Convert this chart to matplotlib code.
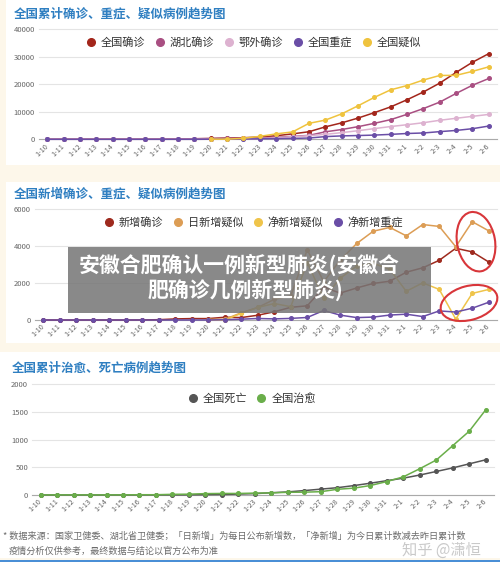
import numpy as np
import matplotlib
matplotlib.use('Agg')
import matplotlib.pyplot as plt
from matplotlib.lines import Line2D
from matplotlib.patches import Rectangle, Ellipse

plt.rcParams['font.family'] = ['Noto Sans CJK SC', 'DejaVu Sans']

nan = np.nan
dates = ['1-10', '1-11', '1-12', '1-13', '1-14', '1-15', '1-16', '1-17', '1-18', '1-19',
         '1-20', '1-21', '1-22', '1-23', '1-24', '1-25', '1-26', '1-27', '1-28', '1-29',
         '1-30', '1-31', '2-1', '2-2', '2-3', '2-4', '2-5', '2-6']

# Chart 1: cumulative
national_confirmed = [41, 41, 41, 41, 41, 41, 45, 62, 121, 198, 291, 440, 571, 830, 1287, 1975, 2744, 4515,
                      5974, 7711, 9692, 11791, 14380, 17205, 20438, 24324, 28018, 31161]
hubei_confirmed = [41, 41, 41, 41, 41, 41, 45, 62, 121, 198, 270, 375, 444, 549, 729, 1052, 1423, 2714,
                   3554, 4586, 5806, 7153, 9074, 11177, 13522, 16678, 19665, 22112]
outside_hubei = [0, 0, 0, 0, 0, 0, 0, 0, 0, 0, 21, 65, 127, 281, 558, 923, 1321, 1801,
                 2420, 3125, 3886, 4638, 5306, 6028, 6916, 7646, 8353, 9049]
national_severe = [0, 0, 0, 0, 0, 0, 0, 0, 0, 0, 35, 51, 95, 177, 237, 324, 461, 976,
                   1239, 1370, 1527, 1795, 2110, 2296, 2788, 3219, 3859, 4821]
national_suspected = [nan] * 10 + [54, 37, 393, 1072, 1965, 2684, 5794, 6973, 9239, 12167, 15238,
                                   17988, 19544, 21558, 23214, 23260, 24702, 26359]
c1_labels = ['全国确诊', '湖北确诊', '鄂外确诊', '全国重症', '全国疑似']
c1_colors = ['#a3261b', '#a94f82', '#ddb2d0', '#6a4ea6', '#efc33e']

# Chart 2: daily new
new_confirmed = [0, 0, 0, 0, 0, 0, 4, 17, 59, 77, 77, 149, 131, 259, 444, 688, 769, 1771,
                 1459, 1737, 1982, 2102, 2590, 2829, 3235, 3887, 3694, 3143]
daily_new_suspected = [nan] * 10 + [27, 37, 393, 680, 1118, 1309, 3806, 2077, 3248, 4148, 4812,
                                    5019, 4562, 5173, 5072, 3971, 5328, 4833]
net_new_suspected = [nan] * 10 + [27, 0, 356, 679, 893, 719, 3110, 1179, 2266, 2928, 3071,
                                  2750, 1556, 2014, 1656, 46, 1442, 1657]
net_new_severe = [0] * 10 + [0, 16, 44, 82, 60, 87, 137, 515, 263, 131, 157, 268, 315, 186,
                             492, 431, 640, 962]
c2_labels = ['新增确诊', '日新增疑似', '净新增疑似', '净新增重症']
c2_colors = ['#9e2a1e', '#dc9d55', '#efc44a', '#6a4ea6']

# Chart 3: cured / deaths
deaths = [1, 1, 1, 1, 1, 1, 2, 2, 2, 3, 6, 9, 17, 25, 41, 56, 80, 106, 132, 170, 213, 259,
          304, 361, 425, 490, 563, 636]
cured = [2, 2, 2, 2, 2, 2, 5, 5, 12, 15, 25, 28, 28, 34, 38, 49, 51, 60, 103, 124, 171, 243,
         328, 475, 632, 892, 1153, 1540]
c3_labels = ['全国死亡', '全国治愈']
c3_colors = ['#555555', '#6aae4a']

titles = ['全国累计确诊、重症、疑似病例趋势图', '全国新增确诊、重症、疑似病例趋势图', '全国累计治愈、死亡病例趋势图']

W, H = 500, 562
fig = plt.figure(figsize=(5, 5.62), dpi=100)
fig.patch.set_facecolor('#fdf7ea')


def fx(x):
    return x / W


def fy(y):
    return 1 - y / H


for (x0, y0, x1, y1) in [(6, 0, 500, 165), (6, 182, 500, 343), (0, 352, 500, 558)]:
    fig.patches.append(Rectangle((fx(x0), fy(y1)), fx(x1) - fx(x0), fy(y0) - fy(y1),
                                 transform=fig.transFigure, facecolor='white',
                                 edgecolor='none', zorder=-10))

xs = np.arange(len(dates))


def make_axes(left, right, y0, ytop, yticks):
    ax = fig.add_axes([fx(left), fy(y0), fx(right) - fx(left), (y0 - ytop) / H])
    ax.set_facecolor('none')
    ax.set_xlim(-0.5, len(dates) - 0.5)
    ax.set_ylim(0, yticks[-1])
    ax.set_yticks(yticks)
    ax.set_yticklabels([str(v) for v in yticks])
    ax.grid(axis='y', color='#e4e4e4', lw=0.8)
    ax.set_axisbelow(True)
    for gl in ax.get_ygridlines():
        gl.set_clip_on(False)
    for s in ['top', 'right', 'left']:
        ax.spines[s].set_visible(False)
    ax.spines['bottom'].set_color('#aaaaaa')
    ax.spines['bottom'].set_linewidth(0.8)
    ax.tick_params(axis='y', length=0, pad=3, labelsize=5.5, labelcolor='#666666')
    ax.tick_params(axis='x', length=0, pad=4, labelsize=5.2, labelcolor='#666666')
    ax.set_xticks(xs)
    ax.set_xticklabels(dates)
    for lbl in ax.get_xticklabels():
        lbl.set(rotation=45, ha='right', va='center', rotation_mode='anchor')
    return ax


def draw_lines(ax, series, colors):
    for vals, c in zip(series, colors):
        ax.plot(xs, vals, color=c, lw=1.1, marker='o', ms=2.6, zorder=3, clip_on=False)


def legend(labels, colors, cx, cy):
    handles = [Line2D([], [], ls='none', marker='o', ms=5.5, color=c) for c in colors]
    fig.legend(handles, labels, loc='center', bbox_to_anchor=(fx(cx), fy(cy)),
               bbox_transform=fig.transFigure, ncol=len(labels), frameon=False,
               fontsize=8, handlelength=0.8, handletextpad=0.5, columnspacing=0.9,
               borderpad=0, labelcolor='#333333')


# Chart 1
ax1 = make_axes(39, 497, 139.3, 29.3, [0, 10000, 20000, 30000, 40000])
draw_lines(ax1, [national_confirmed, hubei_confirmed, outside_hubei, national_severe, national_suspected],
           c1_colors)
legend(c1_labels, c1_colors, 254, 42.7)
fig.text(fx(14), fy(14), titles[0], fontsize=9, fontweight='bold', color='#2f7fc1',
         ha='left', va='center')

# Chart 2
ax2 = make_axes(35, 497, 320, 209.3, [0, 2000, 4000, 6000])
draw_lines(ax2, [new_confirmed, daily_new_suspected, net_new_suspected, net_new_severe], c2_colors)
legend(c2_labels, c2_colors, 254, 222.7)
fig.text(fx(14), fy(194), titles[1], fontsize=9, fontweight='bold', color='#2f7fc1',
         ha='left', va='center')

# Chart 3
ax3 = make_axes(32.3, 494, 495, 384.3, [0, 500, 1000, 1500, 2000])
draw_lines(ax3, [deaths, cured], c3_colors)
legend(c3_labels, c3_colors, 252, 398.3)
fig.text(fx(12), fy(368.3), titles[2], fontsize=9, fontweight='bold', color='#2f7fc1',
         ha='left', va='center')

# red highlight ellipses (annotation, pixel coordinates)
for (cx, cy, w, h, ang) in [(476, 241.7, 38, 60, 10), (469, 303, 58, 34, 15)]:
    fig.patches.append(Ellipse((cx / 100, (H - cy) / 100), w / 100, h / 100, angle=ang,
                               transform=fig.dpi_scale_trans, facecolor='none',
                               edgecolor='#d8363a', lw=1.5, zorder=6))

# overlay caption box
fig.patches.append(Rectangle((fx(68), fy(313)), fx(431) - fx(68), fy(247) - fy(313),
                             transform=fig.transFigure, facecolor='#767676',
                             edgecolor='none', alpha=0.86, zorder=10))
fig.text(fx(239), fy(265), '安徽合肥确认一例新型肺炎(安徽合', fontsize=15, fontweight='bold',
         color='white', ha='center', va='center', zorder=11)
fig.text(fx(245.5), fy(290), '肥确诊几例新型肺炎)', fontsize=15, fontweight='bold',
         color='white', ha='center', va='center', zorder=11)

# footnote
fig.text(fx(3), fy(536), '* 数据来源：国家卫健委、湖北省卫健委；「日新增」为每日公布新增数，「净新增」为今日累计数减去昨日累计数',
         fontsize=6.6, color='#6b6b6b', ha='left', va='center')
fig.text(fx(9), fy(551), '疫情分析仅供参考，最终数据与结论以官方公布为准',
         fontsize=6.6, color='#6b6b6b', ha='left', va='center')
fig.text(fx(402), fy(550), '知乎 @潇恒', fontsize=11, color='#c4c4c4', alpha=0.9,
         ha='left', va='center', zorder=12)
fig.patches.append(Rectangle((0, 0), 1, 2.5 / H, transform=fig.transFigure,
                             facecolor='#4a8fd6', edgecolor='none', zorder=12))

fig.savefig('out.png', dpi=100)
